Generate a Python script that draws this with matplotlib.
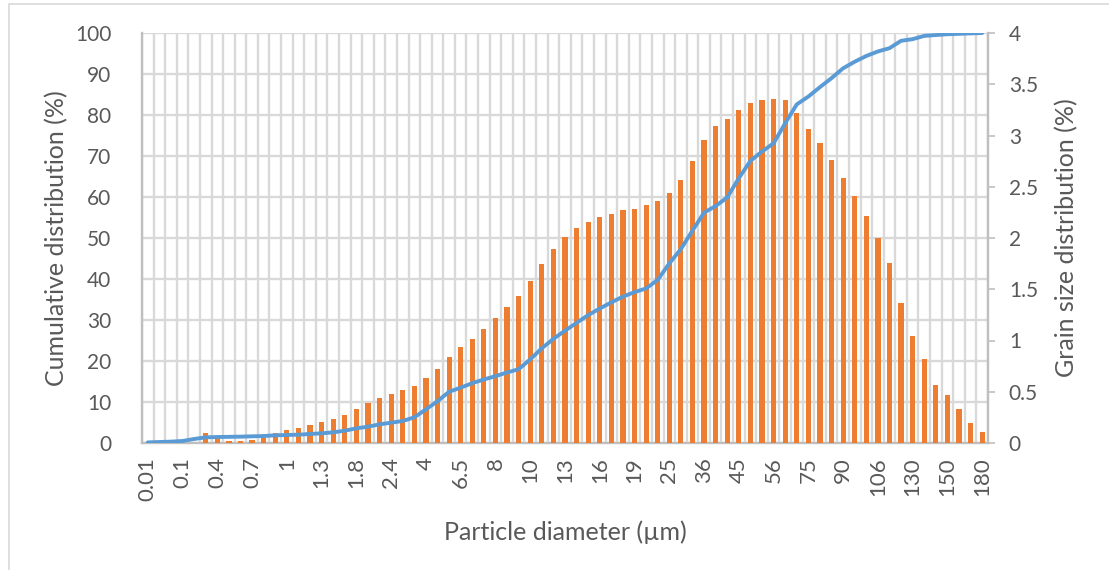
"""
Particle size distribution: grain size bars (right axis) with cumulative curve (left axis).
"""

import matplotlib
matplotlib.use("Agg")
import matplotlib.pyplot as plt
from matplotlib.patches import Rectangle
import numpy as np

# particle diameter classes (um) -- every third one is labelled on the axis
diameters = [
    "0.01", "0.04", "0.07", "0.1", "0.2", "0.3", "0.4", "0.5", "0.6",
    "0.7", "0.8", "0.9", "1", "1.1", "1.2", "1.3", "1.4", "1.6",
    "1.8", "2", "2.2", "2.4", "2.8", "3.4", "4", "5", "6",
    "6.5", "7", "7.5", "8", "8.5", "9", "10", "11", "12",
    "13", "14", "15", "16", "17", "18", "19", "20", "22",
    "25", "28", "32", "36", "38", "40", "45", "50", "53",
    "56", "63", "71", "75", "80", "85", "90", "95", "100",
    "106", "112", "125", "130", "140", "145", "150", "160", "170",
    "180",
]

# grain size distribution (%)
grain_pct = [
    0, 0, 0, 0, 0, 0.093, 0.045, 0.02, 0.015,
    0.03, 0.05, 0.10, 0.13, 0.15, 0.175, 0.205, 0.23, 0.275,
    0.33, 0.39, 0.435, 0.48, 0.515, 0.555, 0.635, 0.72, 0.835,
    0.94, 1.017, 1.11, 1.216, 1.33, 1.434, 1.577, 1.746, 1.89,
    2.007, 2.095, 2.156, 2.205, 2.237, 2.27, 2.286, 2.319, 2.358,
    2.44, 2.57, 2.75, 2.956, 3.09, 3.157, 3.245, 3.314, 3.343,
    3.353, 3.343, 3.223, 3.06, 2.924, 2.758, 2.583, 2.41, 2.218,
    2.0, 1.753, 1.369, 1.047, 0.816, 0.566, 0.465, 0.329, 0.198,
    0.11,
]

# cumulative distribution (%)
cumulative_pct = [
    0.15, 0.24, 0.33, 0.49, 0.98, 1.38, 1.46, 1.5, 1.55,
    1.63, 1.7, 1.87, 1.95, 2.03, 2.2, 2.36, 2.6, 3.0,
    3.58, 3.98, 4.55, 4.96, 5.37, 6.26, 8.2, 10.2, 12.5,
    13.5, 14.6, 15.5, 16.3, 17.2, 18.0, 20.4, 23.1, 25.4,
    27.4, 29.3, 31.2, 32.8, 34.3, 35.7, 36.8, 37.7, 39.8,
    43.8, 47.3, 51.8, 56.2, 57.8, 59.9, 64.6, 68.8, 71.1,
    73.1, 78.0, 82.6, 84.5, 86.8, 89.0, 91.4, 93.0, 94.4,
    95.5, 96.3, 98.1, 98.5, 99.3, 99.5, 99.7, 99.8, 99.9,
    100.0,
]

TXT   = "#595959"
GRID  = "#d9d9d9"
AXIS  = "#bfbfbf"
BAR   = "#ed7d31"
LINE  = "#5b9bd5"

plt.rcParams["font.family"] = ["Lato", "DejaVu Sans"]

n = len(diameters)
x = np.arange(n)

fig = plt.figure(figsize=(11.09, 5.70), dpi=100)
fig.patches.append(Rectangle((9 / 1109, -0.1), 1.2, (570 - 4) / 570 + 0.1,
                             transform=fig.transFigure, fill=False,
                             edgecolor="#d9d9d9", linewidth=1.2))

ax = fig.add_axes([142 / 1109, 1 - 443 / 570, (988 - 142) / 1109, (443 - 33) / 570])
ax2 = ax.twinx()          # bars, right scale
ax3 = ax.twinx()          # cumulative curve on top

# primary axis: grid + left ticks
ax.set_xlim(-0.5, n - 0.5)
ax.set_ylim(0, 100)
ax.set_yticks(np.arange(0, 101, 10))
ax.set_xticks(x[::3])
ax.set_xticklabels(diameters[::3], rotation=90)
ax.set_xticks(np.arange(-0.5, n, 1), minor=True)
ax.grid(which="major", axis="y", color=GRID, linewidth=1.7)
ax.grid(which="minor", axis="x", color=GRID, linewidth=1.7)
ax.tick_params(axis="both", which="both", length=0, colors=TXT)
ax.tick_params(axis="y", pad=22, labelsize=15)
ax.tick_params(axis="x", pad=10, labelsize=16)
for s in ["top", "right"]:
    ax.spines[s].set_visible(False)
for s in ["left", "bottom"]:
    ax.spines[s].set_color(AXIS)
    ax.spines[s].set_linewidth(1.7)
ax.set_axisbelow(True)

# bars
ax2.bar(x, grain_pct, width=0.45, color=BAR, zorder=2)
ax2.set_ylim(0, 4)
ax2.set_yticks(np.arange(0, 4.01, 0.5))
ax2.set_yticklabels(["0", "0.5", "1", "1.5", "2", "2.5", "3", "3.5", "4"])
ax2.tick_params(axis="y", length=5, width=1.2, color=AXIS, colors=TXT,
                labelsize=15, pad=10)
for s in ["top", "left", "bottom"]:
    ax2.spines[s].set_visible(False)
ax2.spines["right"].set_color(AXIS)
ax2.spines["right"].set_linewidth(1.7)

# cumulative curve
ax3.plot(x, cumulative_pct, color=LINE, linewidth=2.8, solid_capstyle="round")
ax3.set_ylim(0, 100)
ax3.set_yticks([])
for s in ax3.spines.values():
    s.set_visible(False)

ax.set_xlabel("Particle diameter (\u00b5m)", fontsize=18, color=TXT, labelpad=14)
ax.set_ylabel("Cumulative distribution (%)", fontsize=18, color=TXT, labelpad=5)
ax2.set_ylabel("Grain size distribution (%)", fontsize=18, color=TXT, labelpad=12)

fig.savefig("out.png", dpi=100)
